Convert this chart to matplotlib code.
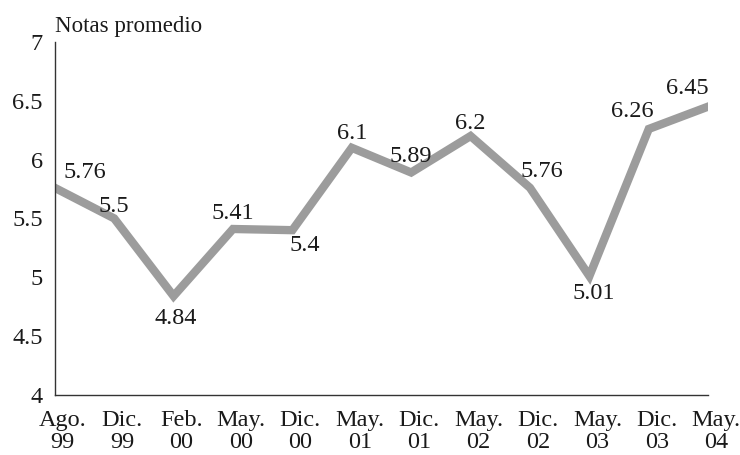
import matplotlib.pyplot as plt
import matplotlib.transforms as mtransforms

months = ["Ago.\n99", "Dic.\n99", "Feb.\n00", "May.\n00", "Dic.\n00", "May.\n01",
          "Dic.\n01", "May.\n02", "Dic.\n02", "May.\n03", "Dic.\n03", "May.\n04"]
notas = [5.76, 5.5, 4.84, 5.41, 5.4, 6.1, 5.89, 6.2, 5.76, 5.01, 6.26, 6.45]
value_labels = ["5.76", "5.5", "4.84", "5.41", "5.4", "6.1",
                "5.89", "6.2", "5.76", "5.01", "6.26", "6.45"]
yticks = [4, 4.5, 5, 5.5, 6, 6.5, 7]
ytick_labels = ["4", "4.5", "5", "5.5", "6", "6.5", "7"]

# label offsets in pixels (dx, dy), dy positive = up
offsets = [(30, 15), (0, 12), (2, -22), (0, 15), (12, -15), (0, 14),
           (0, 16), (0, 13), (12, 16), (4, -17), (-16, 17), (-21, 18)]


def main():
	plt.rcParams['font.family'] = ['Liberation Serif', 'DejaVu Serif']
	fs = 17.5

	fig = plt.figure(figsize=(7.4, 4.55), dpi=100)
	ax = fig.add_axes([0.074, 0.132, 0.883, 0.776])

	x = list(range(len(notas)))
	ax.plot(x, notas, color="#9c9c9c", linewidth=6, solid_joinstyle="miter")

	for i, (v, lab) in enumerate(zip(notas, value_labels)):
		ax.annotate(lab, (i, v), xytext=offsets[i], textcoords="offset pixels",
		            ha="center", va="center", fontsize=fs, color="#1a1a1a")

	ax.set_xlim(0, len(notas) - 1)
	ax.set_ylim(4, 7)
	ax.set_xticks(x)
	ax.set_xticklabels(months, fontsize=fs, linespacing=1.04, color="#1a1a1a")
	ax.set_yticks(yticks)
	ax.set_yticklabels(ytick_labels, fontsize=fs, color="#1a1a1a")
	ax.tick_params(length=0)
	ax.tick_params(axis="x", pad=11)
	ax.tick_params(axis="y", pad=8.5)

	# category labels sit a little right of their points
	shift = mtransforms.ScaledTranslation(8 / 100, 0, fig.dpi_scale_trans)
	for lab in ax.get_xticklabels():
		lab.set_transform(lab.get_transform() + shift)

	for s in ["top", "right"]:
		ax.spines[s].set_visible(False)
	for s in ["left", "bottom"]:
		ax.spines[s].set_color("#333333")
		ax.spines[s].set_linewidth(1.0)

	fig.text(0.074, 0.942, "Notas promedio", fontsize=16.5, color="#1a1a1a",
	         ha="left", va="center")

	fig.savefig("out.png", dpi=100)


if __name__ == '__main__':
	main()
